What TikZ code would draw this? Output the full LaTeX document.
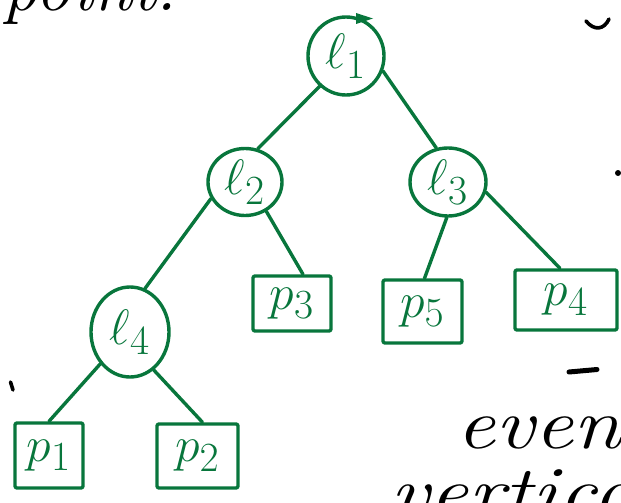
\documentclass[tikz,border=0pt]{standalone}
\usetikzlibrary{shapes.geometric}
\definecolor{ink}{RGB}{8,118,60}
\tikzset{
  pen/.style={draw=ink, line width=3.4pt, line cap=round, line join=round},
  lbl/.style={text=ink, font=\Huge, scale=2.0, inner sep=0pt},
  inode/.style={pen, ellipse, inner sep=0pt},
  leaf/.style={pen, rectangle, rounded corners=2pt, inner sep=0pt},
  edge/.style={pen},
  scrawl/.style={text=black, font=\Huge\itshape, scale=2.9, inner sep=0pt, anchor=base west},
  stray/.style={draw=black, line width=3.6pt, line cap=round}
}
\begin{document}
\begin{tikzpicture}[x=1pt, y=-1pt]
\useasboundingbox (0,0) rectangle (621,503);
\clip (0,0) rectangle (621,503);

% internal nodes
\node[inode, minimum width=76pt, minimum height=78pt] (l1) at (346,56)  {};
\node[inode, minimum width=74pt, minimum height=67pt] (l2) at (245,182) {};
\node[inode, minimum width=76pt, minimum height=68pt] (l3) at (448,182) {};
\node[inode, minimum width=78pt, minimum height=90pt] (l4) at (130,332) {};
\node[lbl] (l1t) at (l1) {$\ell_1$};
\node[lbl] (l2t) at (l2) {$\ell_2$};
\node[lbl] (l3t) at (l3) {$\ell_3$};
\node[lbl] (l4t) at (l4) {$\ell_4$};

% pen overlap at the top of the root
\fill[ink] (356,13) -- (373,18.5) -- (356,24) -- cycle;

% leaves
\node[leaf, minimum width=68pt,  minimum height=65pt] (p1) at (49,455.5)   {};
\node[leaf, minimum width=81pt,  minimum height=64pt] (p2) at (197.5,456)  {};
\node[leaf, minimum width=78pt,  minimum height=55pt] (p3) at (292,303.5)  {};
\node[leaf, minimum width=79pt,  minimum height=63pt] (p5) at (422.5,311.5){};
\node[leaf, minimum width=102pt, minimum height=60pt] (p4) at (566,300)    {};
\node[lbl] (p1t) at (p1) {$p_1$};
\node[lbl] (p2t) at (p2) {$p_2$};
\node[lbl] (p3t) at (p3) {$p_3$};
\node[lbl] (p5t) at (p5) {$p_5$};
\node[lbl] (p4t) at (p4) {$p_4$};

% tree edges
\draw[edge] (l1.-131) -- (l2.69);
\draw[edge] (l1.-22)  -- (l3.109);
\draw[edge] (l2.206)  -- (l4.71);
\draw[edge] (l2.-54)  -- ([xshift=11pt]p3.north);
\draw[edge] (l3.-92)  -- ([xshift=2pt]p5.north);
\draw[edge] (l3.-15)  -- ([xshift=-6pt]p4.north);
\draw[edge] (l4.227)  -- (p1.north);
\draw[edge] (l4.-58)  -- ([xshift=5pt]p2.north);

% surrounding handwriting, running off the page edges
\node[scrawl] (t1) at (2,11)    {point.};
\node[scrawl, xscale=1.2] (t2) at (456,448) {even};
\node[scrawl, xscale=1.2] (t3) at (390,516) {vertica};

% stray marks
\draw[stray] (586,21) .. controls (594,31) and (604,30) .. (609,19);
\fill[black] (618,173) circle (3);
\draw[stray, line width=5pt] (569,372) -- (597,369.5);
\draw[stray] (10.5,382) -- (13,390);
\end{tikzpicture}
\end{document}
